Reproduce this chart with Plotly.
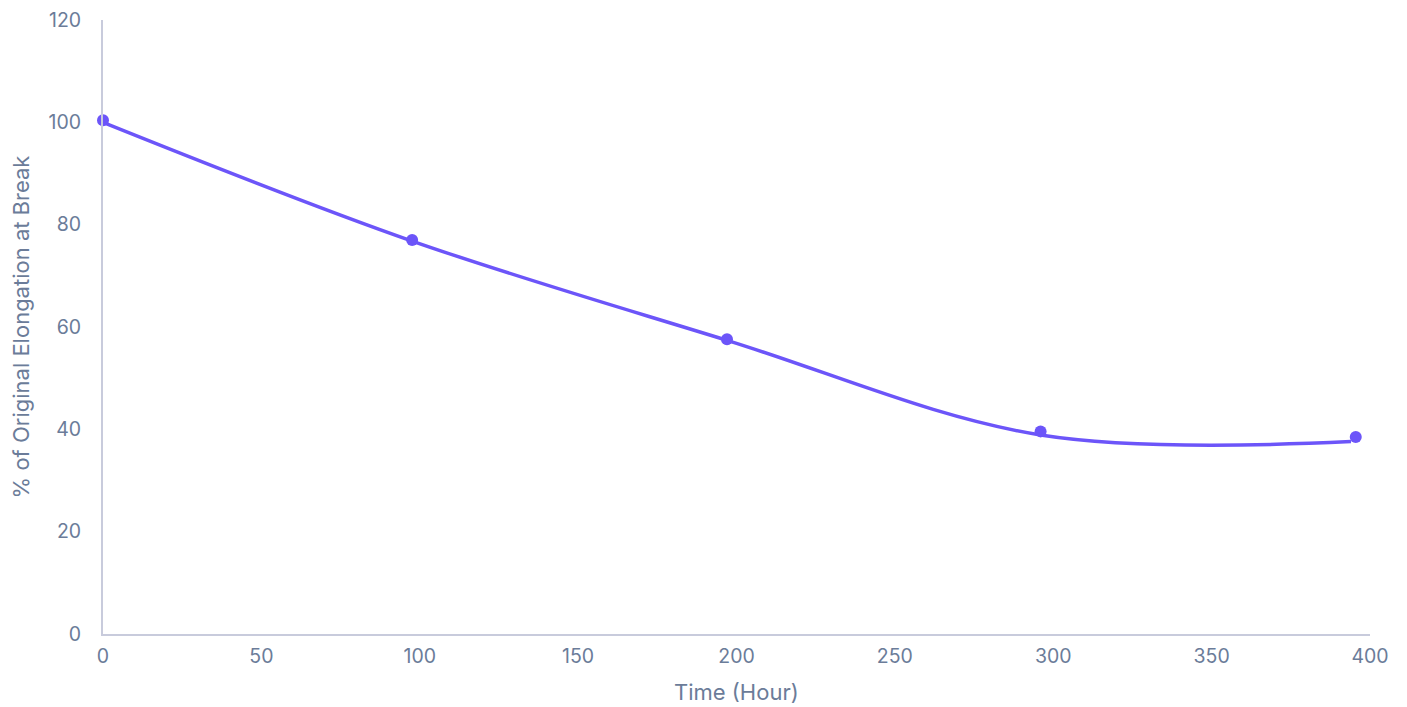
import plotly.graph_objects as go

# Smoothed trend line
line_hours = [0, 97.6, 197, 296, 394]
line_pct = [100, 76.8, 57.4, 38.9, 37.6]

# Measured points
point_hours = [0, 97.6, 197, 296, 395.5]
point_pct = [100.4, 77.0, 57.6, 39.6, 38.5]

x_ticks = [0, 50, 100, 150, 200, 250, 300, 350, 400]
y_ticks = [0, 20, 40, 60, 80, 100, 120]

purple = "#6c55f9"
label_color = "#6b7c99"
axis_color = "#c8cbdc"

fig = go.Figure()
fig.add_trace(go.Scatter(x=line_hours, y=line_pct, mode="lines",
                         line=dict(color=purple, width=3.5, shape="spline", smoothing=1.0),
                         hoverinfo="skip", showlegend=False, cliponaxis=False))
fig.add_trace(go.Scatter(x=point_hours, y=point_pct, mode="markers",
                         marker=dict(color=purple, size=12),
                         showlegend=False, cliponaxis=False))

fig.update_layout(
    width=1391, height=699,
    margin=dict(l=95, r=29, t=12, b=73),
    paper_bgcolor="white", plot_bgcolor="white",
    font=dict(family="Inter, Roboto, sans-serif", size=19.5, color=label_color),
    xaxis=dict(range=[0, 400], tickvals=x_ticks, showgrid=False, zeroline=False,
               showline=True, linecolor=axis_color, linewidth=2,
               ticks="", ticklabelstandoff=4, automargin=False,
               ticklabeloverflow="allow"),
    yaxis=dict(range=[0, 120], tickvals=y_ticks, showgrid=False, zeroline=False,
               showline=True, linecolor=axis_color, linewidth=2,
               ticks="", ticklabelstandoff=16, automargin=False,
               ticklabeloverflow="allow",
               title=dict(text="% of Original Elongation at Break", standoff=20,
                          font=dict(size=22, color=label_color))),
    annotations=[dict(text="Time (Hour)", xref="paper", yref="paper",
                      x=0.5, y=0, xanchor="center", yanchor="middle",
                      yshift=-58, showarrow=False,
                      font=dict(size=22, color=label_color))],
)

fig.write_html("out.html")
